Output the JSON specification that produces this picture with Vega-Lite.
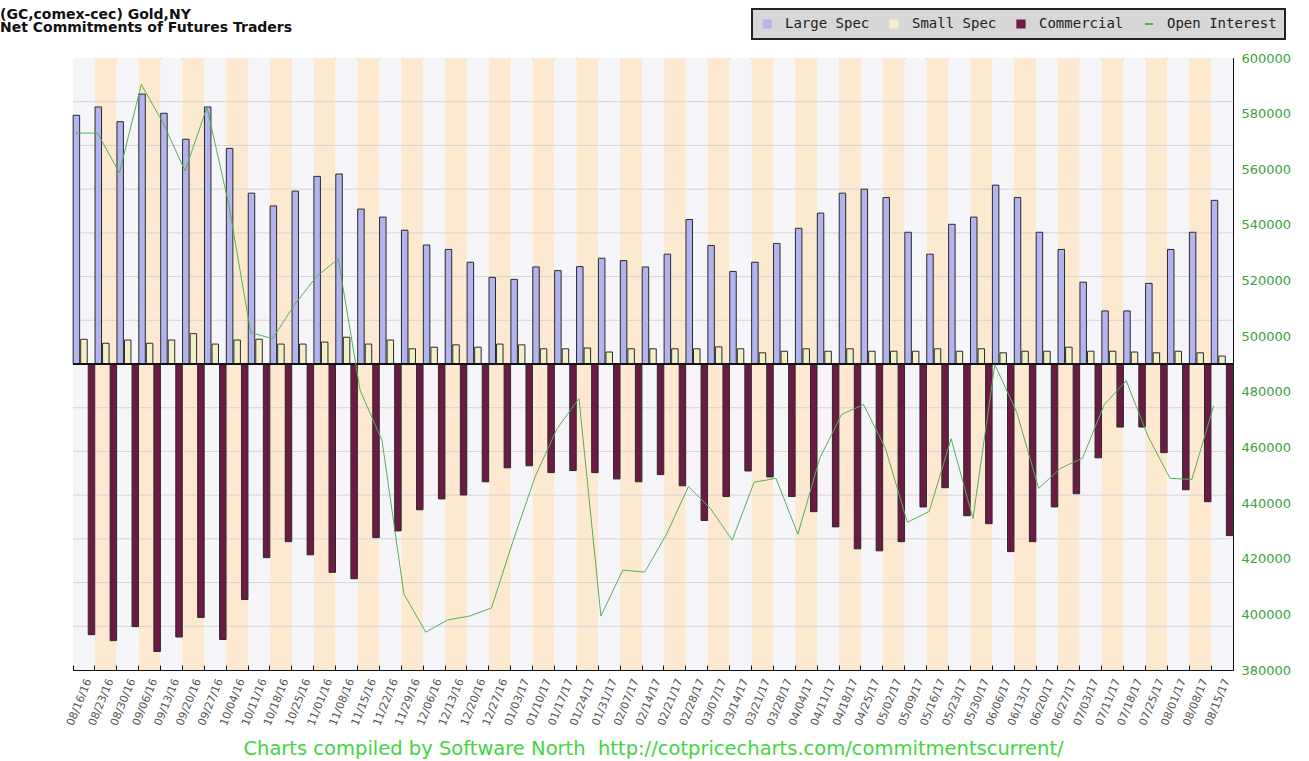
{
  "$schema": "https://vega.github.io/schema/vega-lite/v6.json",
  "width": 1160,
  "height": 612,
  "autosize": {"type": "none"},
  "padding": {"left": 73, "top": 58, "right": 76, "bottom": 91},
  "background": "white",
  "config": {"view": {"stroke": "#555", "strokeWidth": 1}, "font": "DejaVu Sans"},
  "title": {
    "text": ["(GC,comex-cec) Gold,NY", "Net Commitments of Futures Traders"],
    "anchor": "start",
    "frame": "group",
    "dx": -73,
    "offset": -27,
    "font": "DejaVu Sans",
    "fontSize": 14,
    "fontWeight": "bold",
    "lineHeight": 13.5,
    "color": "#111"
  },
  "datasets": {
    "cot": [
      {"date": "08/16/16", "Large Spec": 284500, "Small Spec": 28300, "Commercial": -309600, "oi": 573000},
      {"date": "08/23/16", "Large Spec": 294000, "Small Spec": 23700, "Commercial": -316400, "oi": 573000},
      {"date": "08/30/16", "Large Spec": 277200, "Small Spec": 27400, "Commercial": -300400, "oi": 558700},
      {"date": "09/06/16", "Large Spec": 308700, "Small Spec": 23700, "Commercial": -328800, "oi": 590500},
      {"date": "09/13/16", "Large Spec": 286800, "Small Spec": 27400, "Commercial": -312300, "oi": 576600},
      {"date": "09/20/16", "Large Spec": 257100, "Small Spec": 34700, "Commercial": -289900, "oi": 559400},
      {"date": "09/27/16", "Large Spec": 294000, "Small Spec": 22800, "Commercial": -315100, "oi": 582300},
      {"date": "10/04/16", "Large Spec": 246600, "Small Spec": 27400, "Commercial": -269400, "oi": 547200},
      {"date": "10/11/16", "Large Spec": 195400, "Small Spec": 28300, "Commercial": -221500, "oi": 501300},
      {"date": "10/18/16", "Large Spec": 180800, "Small Spec": 22800, "Commercial": -203200, "oi": 499100},
      {"date": "10/25/16", "Large Spec": 197700, "Small Spec": 22800, "Commercial": -218300, "oi": 511300},
      {"date": "11/01/16", "Large Spec": 214600, "Small Spec": 25100, "Commercial": -238300, "oi": 521400},
      {"date": "11/08/16", "Large Spec": 217300, "Small Spec": 30600, "Commercial": -245600, "oi": 527800},
      {"date": "11/15/16", "Large Spec": 177200, "Small Spec": 22800, "Commercial": -198600, "oi": 480500},
      {"date": "11/22/16", "Large Spec": 168000, "Small Spec": 27400, "Commercial": -190900, "oi": 462500},
      {"date": "11/29/16", "Large Spec": 153000, "Small Spec": 17400, "Commercial": -166700, "oi": 407300},
      {"date": "12/06/16", "Large Spec": 136100, "Small Spec": 19200, "Commercial": -154300, "oi": 393600},
      {"date": "12/13/16", "Large Spec": 131000, "Small Spec": 21900, "Commercial": -149800, "oi": 398000},
      {"date": "12/20/16", "Large Spec": 116400, "Small Spec": 19200, "Commercial": -134700, "oi": 399400},
      {"date": "12/27/16", "Large Spec": 99100, "Small Spec": 22800, "Commercial": -118700, "oi": 402300},
      {"date": "01/03/17", "Large Spec": 96800, "Small Spec": 21900, "Commercial": -116400, "oi": 426700},
      {"date": "01/10/17", "Large Spec": 111000, "Small Spec": 17400, "Commercial": -124200, "oi": 449600},
      {"date": "01/17/17", "Large Spec": 106800, "Small Spec": 17400, "Commercial": -121900, "oi": 466800},
      {"date": "01/24/17", "Large Spec": 111400, "Small Spec": 18300, "Commercial": -124200, "oi": 477600},
      {"date": "01/31/17", "Large Spec": 121000, "Small Spec": 13700, "Commercial": -131500, "oi": 399400},
      {"date": "02/07/17", "Large Spec": 118300, "Small Spec": 17400, "Commercial": -134700, "oi": 415900},
      {"date": "02/14/17", "Large Spec": 111000, "Small Spec": 17400, "Commercial": -126500, "oi": 415200},
      {"date": "02/21/17", "Large Spec": 125600, "Small Spec": 17400, "Commercial": -139300, "oi": 428800},
      {"date": "02/28/17", "Large Spec": 165300, "Small Spec": 17400, "Commercial": -179000, "oi": 446000},
      {"date": "03/07/17", "Large Spec": 135600, "Small Spec": 19600, "Commercial": -151600, "oi": 438100},
      {"date": "03/14/17", "Large Spec": 105900, "Small Spec": 17400, "Commercial": -122400, "oi": 426700},
      {"date": "03/21/17", "Large Spec": 116400, "Small Spec": 12800, "Commercial": -129200, "oi": 447500},
      {"date": "03/28/17", "Large Spec": 137900, "Small Spec": 14600, "Commercial": -151600, "oi": 448900},
      {"date": "04/04/17", "Large Spec": 155200, "Small Spec": 17400, "Commercial": -168900, "oi": 428800},
      {"date": "04/11/17", "Large Spec": 172600, "Small Spec": 14600, "Commercial": -186300, "oi": 456100},
      {"date": "04/18/17", "Large Spec": 195400, "Small Spec": 17400, "Commercial": -211400, "oi": 471900},
      {"date": "04/25/17", "Large Spec": 200000, "Small Spec": 14600, "Commercial": -213700, "oi": 475400},
      {"date": "05/02/17", "Large Spec": 190400, "Small Spec": 14600, "Commercial": -203200, "oi": 459700},
      {"date": "05/09/17", "Large Spec": 150700, "Small Spec": 14600, "Commercial": -163500, "oi": 433100},
      {"date": "05/16/17", "Large Spec": 125600, "Small Spec": 17400, "Commercial": -141500, "oi": 437000},
      {"date": "05/23/17", "Large Spec": 159800, "Small Spec": 14600, "Commercial": -173500, "oi": 463200},
      {"date": "05/30/17", "Large Spec": 168000, "Small Spec": 17400, "Commercial": -182600, "oi": 434500},
      {"date": "06/06/17", "Large Spec": 204600, "Small Spec": 12800, "Commercial": -214600, "oi": 489800},
      {"date": "06/13/17", "Large Spec": 190400, "Small Spec": 14600, "Commercial": -203200, "oi": 472600},
      {"date": "06/20/17", "Large Spec": 150700, "Small Spec": 14600, "Commercial": -163500, "oi": 445300},
      {"date": "06/27/17", "Large Spec": 131000, "Small Spec": 19200, "Commercial": -148400, "oi": 452500},
      {"date": "07/03/17", "Large Spec": 93600, "Small Spec": 14600, "Commercial": -107300, "oi": 456100},
      {"date": "07/11/17", "Large Spec": 60700, "Small Spec": 14600, "Commercial": -72100, "oi": 475400},
      {"date": "07/18/17", "Large Spec": 60700, "Small Spec": 13700, "Commercial": -72100, "oi": 484000},
      {"date": "07/25/17", "Large Spec": 92200, "Small Spec": 12800, "Commercial": -101400, "oi": 464000},
      {"date": "08/01/17", "Large Spec": 131000, "Small Spec": 14600, "Commercial": -143800, "oi": 448900},
      {"date": "08/08/17", "Large Spec": 150700, "Small Spec": 12800, "Commercial": -157500, "oi": 448500},
      {"date": "08/15/17", "Large Spec": 187200, "Small Spec": 9100, "Commercial": -196300, "oi": 475000}
    ],
    "grid": [
      {"g": -300000}, {"g": -250000}, {"g": -200000}, {"g": -150000}, {"g": -100000}, {"g": -50000},
      {"g": 50000}, {"g": 100000}, {"g": 150000}, {"g": 200000}, {"g": 250000}, {"g": 300000}
    ]
  },
  "data": {"name": "cot"},
  "layer": [
    {
      "layer": [
        {
          "transform": [{"window": [{"op": "row_number", "as": "idx"}]}],
          "mark": {"type": "rect"},
          "encoding": {
            "x": {
              "field": "date", "type": "ordinal", "sort": null,
              "scale": {"paddingInner": 0, "paddingOuter": 0},
              "axis": {
                "title": "Charts compiled by Software North\u00a0 http://cotpricecharts.com/commitmentscurrent/",
                "titleColor": "#44d444", "titleFont": "DejaVu Sans", "titleFontSize": 19.5, "titleFontWeight": "normal", "titlePadding": 13,
                "labelAngle": -68, "labelFontSize": 11, "labelColor": "#555", "labelPadding": 14, "labelOffset": 5,
                "bandPosition": 0, "tickSize": -5, "tickColor": "#111", "domainColor": "#111", "grid": false
              }
            },
            "fill": {"condition": {"test": "datum.idx % 2 == 0", "value": "#fde9d0"}, "value": "#f6f6fa"}
          }
        },
        {
          "data": {"name": "grid"},
          "mark": {"type": "rule", "color": "#d4d4d4", "strokeWidth": 1},
          "encoding": {
            "y": {"field": "g", "type": "quantitative", "scale": {"domain": [-350000, 350000], "nice": false, "zero": false}, "axis": null}
          }
        },
        {
          "transform": [{"fold": ["Large Spec", "Small Spec", "Commercial"], "as": ["series", "value"]}],
          "mark": {"type": "bar", "stroke": "#2a2a2a", "strokeWidth": 1},
          "encoding": {
            "x": {"field": "date", "type": "ordinal", "sort": null},
            "xOffset": {"field": "series", "type": "nominal", "scale": {"domain": ["Large Spec", "Small Spec", "Commercial"], "paddingInner": 0.14, "paddingOuter": 0.02}},
            "y": {
              "field": "value", "type": "quantitative",
              "scale": {"domain": [-350000, 350000], "nice": false, "zero": false},
              "axis": {
                "title": null, "values": [-350000, -300000, -250000, -200000, -150000, -100000, -50000, 0, 50000, 100000, 150000, 200000, 250000, 300000, 350000],
                "format": "d", "labelFontSize": 13, "labelColor": "#333", "tickSize": -6, "labelPadding": 12,
                "tickColor": "#111", "domainColor": "#111", "grid": false
              }
            },
            "color": {
              "field": "series", "type": "nominal",
              "scale": {"domain": ["Large Spec", "Small Spec", "Commercial", "Open Interest"], "range": ["#b3b3ef", "#f3f0c8", "#6c1a44", "#55b055"]},
              "legend": {
                "title": null, "orient": "none", "legendX": 679, "legendY": -49, "direction": "horizontal",
                "fillColor": "#d7d7d7", "strokeColor": "#222", "padding": 8,
                "labelFont": "DejaVu Sans Mono", "labelFontSize": 14, "labelColor": "#222",
                "symbolType": "square", "symbolSize": 64, "symbolStrokeColor": "#222", "symbolStrokeWidth": 1,
                "labelOffset": 11, "columnPadding": 17,
                "encode": {
                  "legend": {"update": {"strokeWidth": {"value": 2}}},
                  "symbols": {
                    "update": {
                      "shape": {"signal": "datum.value === 'Open Interest' ? 'stroke' : 'square'"},
                      "stroke": {"signal": "datum.value === 'Open Interest' ? '#6cc66c' : '#222'"},
                      "fill": {"signal": "scale('color', datum.value)"},
                      "strokeWidth": {"signal": "datum.value === 'Open Interest' ? 2 : 1.2"}
                    }
                  }
                }
              }
            }
          }
        },
        {
          "mark": {"type": "rule", "color": "#111", "strokeWidth": 1.5},
          "encoding": {"y": {"datum": 0}}
        }
      ]
    },
    {
      "mark": {"type": "line", "strokeWidth": 1},
      "encoding": {
        "x": {"field": "date", "type": "ordinal", "sort": null, "bandPosition": 0.12},
        "y": {
          "field": "oi", "type": "quantitative",
          "scale": {"domain": [380000, 600000], "nice": false, "zero": false},
          "axis": {
            "orient": "right", "title": null,
            "values": [380000, 400000, 420000, 440000, 460000, 480000, 500000, 520000, 540000, 560000, 580000, 600000],
            "format": "d", "labelFontSize": 13, "labelColor": "#3f9f3f", "tickSize": -6, "labelPadding": 14,
            "tickColor": "#111", "domainColor": "#111", "grid": false
          }
        },
        "color": {"datum": "Open Interest"}
      }
    }
  ],
  "resolve": {"scale": {"y": "independent"}}
}
